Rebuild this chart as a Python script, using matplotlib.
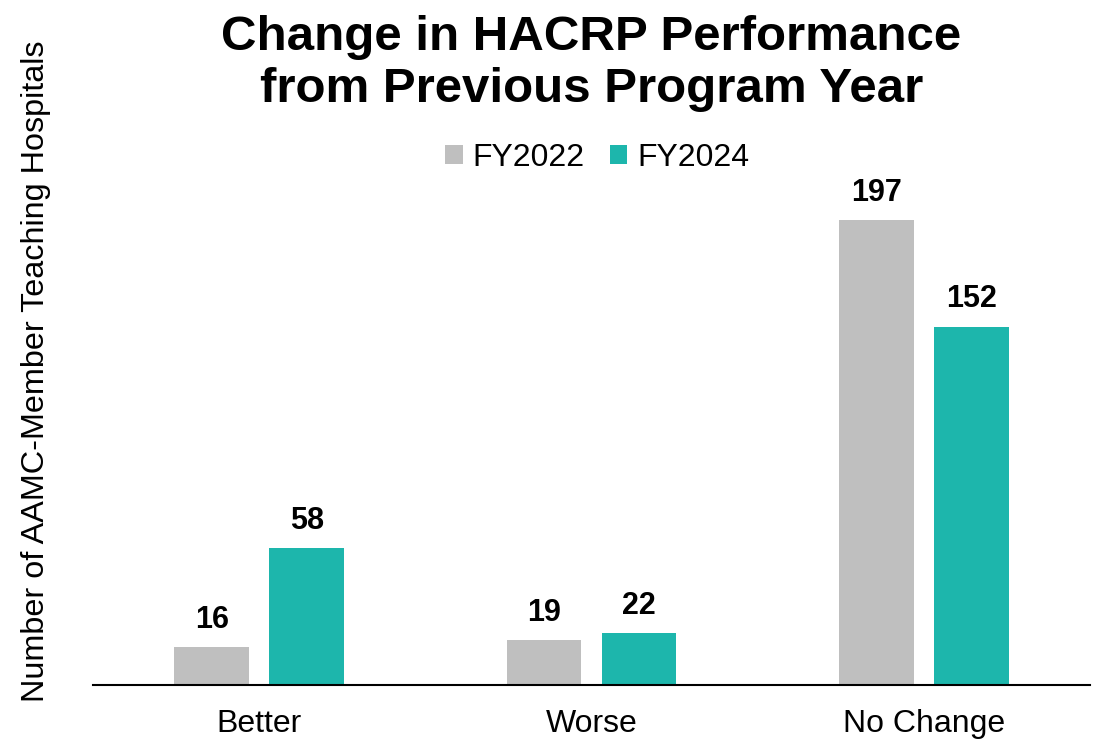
import matplotlib.pyplot as plt
import numpy as np

plt.rcParams['font.family'] = ['Liberation Sans', 'DejaVu Sans']

categories = ['Better', 'Worse', 'No Change']
fy2022 = [16, 19, 197]
fy2024 = [58, 22, 152]
series_names = ['FY2022', 'FY2024']

gray = '#BFBFBF'
teal = '#1DB6AC'

my_dpi = 100
fig = plt.figure(figsize=(1107 / my_dpi, 741 / my_dpi), dpi=my_dpi)
ax = fig.add_axes([93 / 1107, 56 / 741, 997 / 1107, 566 / 741])

x = np.arange(len(categories))
w = 0.225
off = 0.143
b1 = ax.bar(x - off, fy2022, w, color=gray, label=series_names[0])
b2 = ax.bar(x + off, fy2024, w, color=teal, label=series_names[1])

# value labels above bars
for bars in (b1, b2):
    for rect in bars:
        ax.annotate(str(int(rect.get_height())),
                    (rect.get_x() + rect.get_width() / 2, rect.get_height()),
                    xytext=(0, 9), textcoords='offset points',
                    ha='center', va='bottom', fontsize=22, fontweight='bold')

ax.set_xlim(-0.5, 2.5)
ax.set_ylim(0, 240)
ax.set_xticks(x)
ax.set_xticklabels(categories, fontsize=23)
ax.tick_params(axis='x', length=0, pad=17)
ax.set_yticks([])
for s in ['top', 'right', 'left']:
    ax.spines[s].set_visible(False)
ax.spines['bottom'].set_linewidth(1.5)

fig.text(591.5 / 1107, 1 - 15 / 741, 'Change in HACRP Performance\nfrom Previous Program Year',
         ha='center', va='top', fontsize=35.5, fontweight='bold', linespacing=1.2)

fig.text(36 / 1107, 1 - 371 / 741, 'Number of AAMC-Member Teaching Hospitals',
         rotation=90, ha='center', va='center', fontsize=23.3)

fig.legend(loc='center', bbox_to_anchor=(597 / 1107, 1 - 158 / 741), ncol=2,
           frameon=False, fontsize=23, handlelength=0.55, handleheight=0.55,
           handletextpad=0.3, columnspacing=0.8)

plt.savefig('out.png', dpi=my_dpi)
